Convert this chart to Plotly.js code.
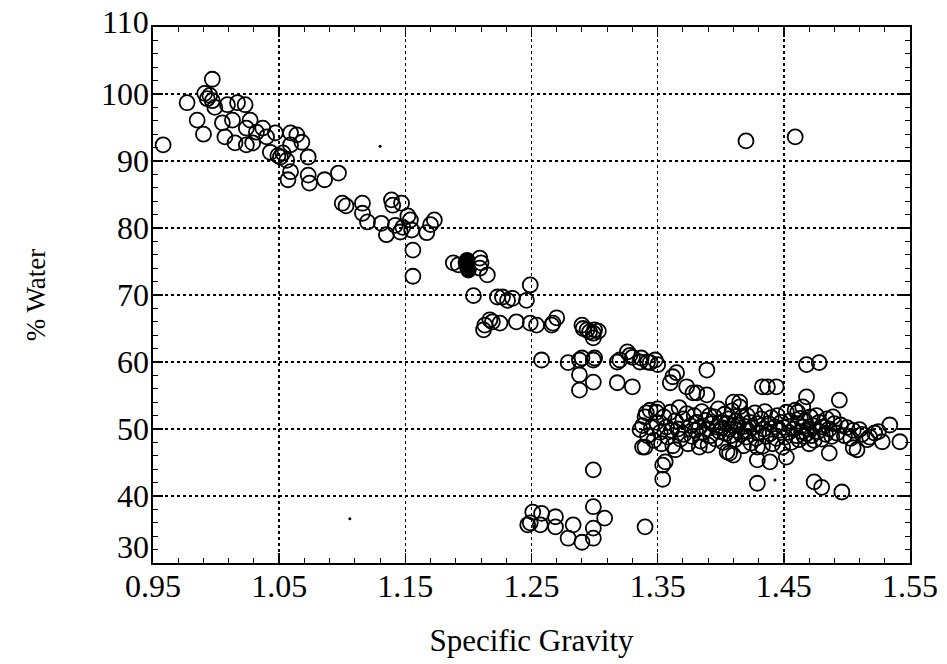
<!DOCTYPE html>
<html>
<head>
<meta charset="utf-8">
<script src="https://cdn.plot.ly/plotly-3.0.1.min.js"></script>
<style>html,body{margin:0;padding:0;background:#fff;}#chart{width:947px;height:664px;}</style>
</head>
<body>
<div id="chart"></div>
<script>
// Specific gravity (x) and % water (y) of open-circle samples
const specificGravity = [
  0.958,0.977,0.985,0.990,0.991,0.993,0.995,0.997,0.997,0.999,1.005,1.007,1.009,1.013,1.015,1.017,1.023,1.024,1.024,1.027,
  1.029,1.032,1.037,1.040,1.043,1.047,1.049,1.051,1.053,1.056,1.057,1.059,1.059,1.059,1.064,1.068,1.073,1.073,1.074,1.086,1.097,
  1.100,1.103,1.116,1.116,1.120,1.131,1.135,1.139,1.140,1.147,1.142,1.146,1.148,1.152,1.154,1.155,1.156,1.156,1.167,1.170,1.173,
  1.188,1.192,1.209,1.209,1.210,1.215,
  1.204,1.223,1.227,1.231,1.235,1.246,1.249,
  1.212,1.213,1.217,1.219,1.225,1.238,1.249,1.254,1.266,1.267,1.270,1.290,1.291,1.294,1.296,1.299,1.300,1.303,1.299,
  1.258,1.279,1.288,1.290,1.299,1.300,1.318,1.320,1.326,1.328,1.330,1.336,1.337,1.342,1.344,1.348,1.350,1.288,1.299,1.288,1.318,1.330,
  1.360,1.362,1.365,1.373,1.378,1.389,1.389,1.381,1.410,1.415,1.433,1.437,1.444,1.468,1.478,1.468,1.465,1.461,1.494,1.489,
  1.420,1.459,1.299,1.354,1.354,1.340,1.429,1.474,1.480,1.496,
  1.247,1.249,1.251,1.257,1.258,1.269,1.269,1.283,1.279,1.290,1.299,1.299,1.299,1.308,
  1.340,1.338,1.336,1.341,1.349,1.356,1.364,1.383,1.405,1.410,1.429,1.407,1.429,1.439,1.452,1.486,1.505,1.508,1.510,1.516,1.522,1.528,1.534,1.542,
  1.338,1.340,1.342,1.344,1.345,1.347,1.349,1.350,1.352,1.353,1.355,1.357,1.358,1.360,1.361,1.362,1.364,1.366,1.367,1.368,
  1.370,1.371,1.373,1.374,1.376,1.377,1.379,1.380,1.381,1.383,1.384,1.385,1.386,1.388,1.389,1.390,1.391,1.392,1.393,1.395,
  1.396,1.397,1.398,1.399,1.400,1.401,1.402,1.403,1.404,1.405,1.406,1.407,1.408,1.409,1.410,1.411,1.412,1.413,1.414,1.415,
  1.416,1.417,1.418,1.419,1.420,1.421,1.422,1.423,1.424,1.425,1.427,1.428,1.429,1.430,1.432,1.433,1.434,1.435,1.436,1.438,
  1.439,1.440,1.441,1.443,1.444,1.445,1.446,1.448,1.449,1.450,1.451,1.452,1.454,1.455,1.456,1.458,1.459,1.460,1.461,1.462,
  1.463,1.464,1.465,1.466,1.467,1.468,1.469,1.470,1.471,1.472,1.473,1.474,1.476,1.477,1.478,1.480,1.481,1.483,1.484,1.486,
  1.488,1.490,1.492,1.495,1.498,1.500,1.503,1.505,1.512,1.518,1.525
];
const percentWater = [
  92.4,98.7,96.1,94.0,100.1,99.3,99.8,102.2,99.0,98.0,95.7,93.6,98.4,96.1,92.7,98.7,98.4,92.4,94.9,96.1,
  92.7,94.3,94.9,93.6,91.3,94.2,90.8,90.6,91.2,90.1,87.2,94.2,88.4,92.4,93.9,92.8,90.6,87.9,86.7,87.2,88.2,
  83.7,83.3,83.7,82.2,80.9,80.7,79.0,84.2,83.4,83.7,80.4,79.4,80.1,81.8,81.2,79.7,76.7,72.8,79.3,80.5,81.2,
  74.8,74.5,75.5,74.0,74.8,73.0,
  69.9,69.7,69.7,69.2,69.5,69.2,71.5,
  64.8,65.5,66.3,66.0,65.8,66.0,65.8,65.5,65.5,65.8,66.6,65.5,65.0,64.8,64.5,64.3,64.8,64.6,63.6,
  60.3,59.9,60.3,60.6,60.3,60.6,60.0,60.3,61.5,61.0,60.7,60.0,60.6,60.0,59.9,60.3,59.6,58.1,57.0,55.8,56.9,56.3,
  56.9,57.8,58.4,56.3,55.4,55.1,58.8,55.4,54.0,54.0,56.3,56.3,56.3,59.6,59.9,54.8,53.3,52.5,54.3,51.8,
  93.0,93.6,43.9,44.6,42.5,35.4,41.9,42.1,41.3,40.6,
  35.7,36.0,37.6,35.7,37.4,36.9,35.4,35.7,33.7,33.1,33.7,35.2,38.4,36.7,
  47.3,47.3,49.9,52.4,52.5,45.1,46.9,47.3,46.6,46.1,47.3,46.4,45.4,45.1,45.8,46.4,47.2,46.9,49.9,48.4,49.4,48.1,50.6,48.1,
  50.5,51.8,49.0,52.8,50.2,48.3,51.0,53.0,49.5,47.8,51.8,50.3,48.8,52.5,49.8,47.5,51.2,50.0,53.2,48.5,
  51.5,49.2,52.3,47.8,50.5,48.9,52.0,49.8,51.0,50.2,48.2,52.6,49.5,51.3,50.0,47.6,52.0,49.0,50.8,51.8,
  48.5,50.3,53.0,49.6,51.0,50.2,48.0,52.2,49.3,50.8,51.5,50.0,49.0,52.7,50.5,48.4,51.2,49.8,50.6,53.3,
  49.2,51.8,47.5,50.4,48.8,52.0,49.7,51.0,47.9,50.2,52.4,48.6,50.8,49.4,51.5,47.4,50.0,52.6,48.9,50.8,
  49.3,51.7,47.8,50.3,48.6,52.0,49.8,51.0,47.3,50.2,48.8,52.5,49.5,51.2,48.0,50.0,52.8,49.0,50.8,48.4,
  51.6,49.6,50.3,48.9,51.2,49.3,50.0,47.8,51.8,49.0,50.5,48.3,52.0,49.6,51.0,48.5,50.3,49.2,51.5,50.0,
  48.9,50.8,49.4,50.6,49.0,50.2,48.6,49.8,49.2,48.8,49.6
];
// Solid (filled) samples
const filledGravity = [1.198, 1.199, 1.199, 1.200];
const filledWater = [74.8, 75.2, 74.2, 73.7];
// Small specks on the scan
const speckGravity = [1.130, 1.106, 1.443];
const speckWater = [92.2, 36.6, 42.4];

const xTicks = [0.95, 1.05, 1.15, 1.25, 1.35, 1.45, 1.55];
const xTickText = ['0.95', '1.05', '1.15', '1.25', '1.35', '1.45', '1.55'];
const yTicks = [30, 40, 50, 60, 70, 80, 90, 100, 110];
const yTickText = ['30', '40', '50', '60', '70', '80', '90', '100', '110'];

const serif = 'Liberation Serif, Times New Roman, serif';
const tickFontSize = 32;

const traces = [
  {
    type: 'scatter', mode: 'markers', x: specificGravity, y: percentWater,
    marker: {symbol: 'circle-open', size: 15, color: '#000', line: {width: 1.8, color: '#000'}},
    hoverinfo: 'x+y', showlegend: false
  },
  {
    type: 'scatter', mode: 'markers', x: filledGravity, y: filledWater,
    marker: {symbol: 'circle', size: 15, color: '#000', line: {width: 1.5, color: '#000'}},
    showlegend: false
  },
  {
    type: 'scatter', mode: 'markers', x: speckGravity, y: speckWater,
    marker: {symbol: 'circle', size: 3, color: '#000'},
    showlegend: false
  }
];

const axisCommon = {
  showline: true, linecolor: '#000', linewidth: 2, mirror: 'ticks',
  ticks: 'inside', ticklen: 10, tickwidth: 1.5, tickcolor: '#000',
  showgrid: true, gridcolor: '#000', griddash: 'dot', gridwidth: 1.6,
  zeroline: false,
  tickfont: {family: serif, size: tickFontSize, color: '#000'}
};

// y tick labels as annotations so the lowest one can sit above the x labels, as in the original
const yLabelAnnotations = yTicks.map((v, i) => ({
  xref: 'paper', yref: 'y', x: 0, y: v, xanchor: 'right', yanchor: 'middle',
  xshift: -2, yshift: v === 30 ? 16 : (v === 110 ? 5 : 0),
  text: yTickText[i], showarrow: false,
  font: {family: serif, size: tickFontSize, color: '#000'}
}));

const layout = {
  width: 947, height: 664,
  margin: {l: 153, r: 37, t: 27, b: 101},
  paper_bgcolor: '#fff', plot_bgcolor: '#fff',
  xaxis: Object.assign({}, axisCommon, {
    range: [0.95, 1.55], tickmode: 'array', tickvals: xTicks, ticktext: xTickText,
    ticklabelstandoff: -6,
    minor: {dtick: 0.02, tick0: 0.95, ticks: 'inside', ticklen: 5, tickwidth: 1, tickcolor: '#000', showgrid: false},
    title: {text: 'Specific Gravity', font: {family: serif, size: 31, color: '#000'}, standoff: 26}
  }),
  yaxis: Object.assign({}, axisCommon, {
    range: [30, 110], tickmode: 'array', tickvals: yTicks, showticklabels: false,
    minor: {dtick: 2, tick0: 30, ticks: 'inside', ticklen: 5, tickwidth: 1, tickcolor: '#000', showgrid: false},
    title: {text: '% Water', font: {family: serif, size: 27, color: '#000'}, standoff: 98}
  }),
  annotations: yLabelAnnotations
};

Plotly.newPlot('chart', traces, layout, {displayModeBar: false, staticPlot: true});
</script>
</body>
</html>
